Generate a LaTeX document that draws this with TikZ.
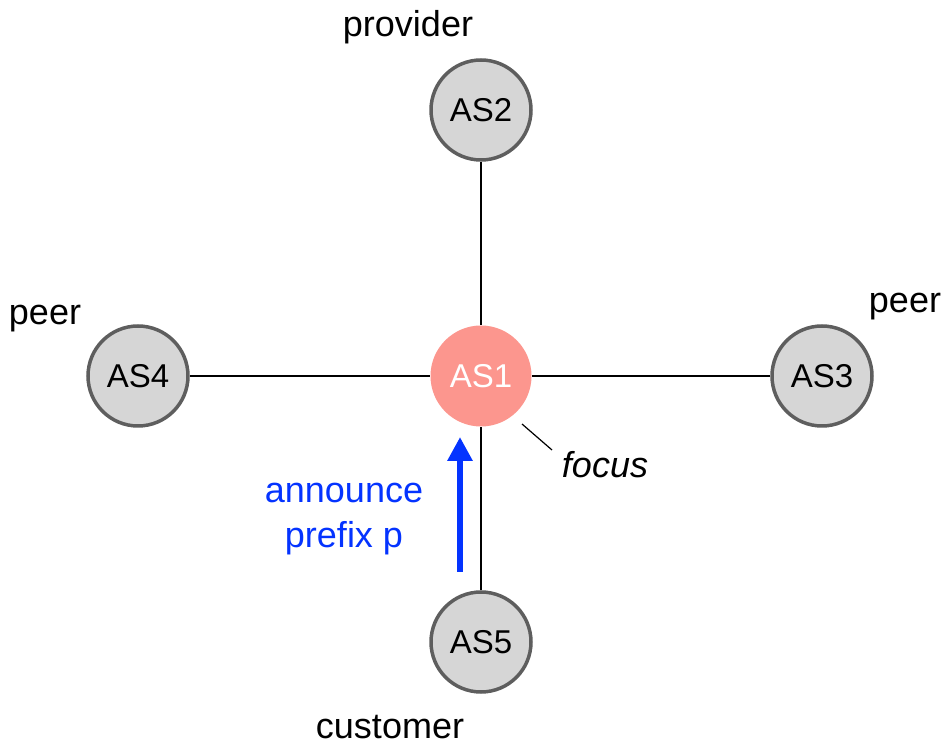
\documentclass[tikz,border=0pt]{standalone}
\usepackage{fontspec}
\setmainfont{Liberation Sans}
\usepackage{tikz}
\usetikzlibrary{arrows.meta}

\definecolor{asgray}{RGB}{214,214,214}
\definecolor{asborder}{RGB}{94,94,94}
\definecolor{focusred}{RGB}{252,150,142}
\definecolor{announceblue}{RGB}{4,51,255}

\begin{document}
\begin{tikzpicture}[x=1pt, y=1pt,
            as/.style={draw=asborder, circle, fill=asgray, line width=3.5pt, inner sep=0, minimum size=100pt, font=\fontsize{33}{33}\selectfont},
            role/.style={anchor=base, inner sep=0, font=\fontsize{36}{36}\selectfont},
            every edge/.style={draw, line width=1.2pt}]
        \useasboundingbox (0,0) rectangle (946,750);

        \node (AS1) [circle, fill=focusred, inner sep=0, minimum size=101pt, text=white, font=\fontsize{33}{33}\selectfont] at (481,374) {AS1};
        \node (AS2) [as, above of=AS1, node distance=266pt] {AS2} edge (AS1);
        \node (AS5) [as, below of=AS1, node distance=266pt] {AS5} edge (AS1);
        \node (AS4) [as, left of=AS1, node distance=343pt] {AS4} edge (AS1);
        \node (AS3) [as, right of=AS1, node distance=341pt] {AS3} edge (AS1);

        % roles
        \node (provider) [role] at (408,713) {provider};
        \node (peerL) [role] at (45,425) {peer};
        \node (peerR) [role] at (905,437) {peer};
        \node (customer) [role] at (390,11) {customer};

        % focus marker
        \node (focus) [role, font=\fontsize{36}{36}\selectfont\itshape] at (605,272) {focus};
        \coordinate (f1) at (522,326);
        \coordinate (f2) at (552,300);
        \draw [line width=1.2pt] (f1) -- (f2);

        % announcement
        \coordinate (tail) at (460,178);
        \coordinate (head) at (460,313);
        \draw [-{Triangle[length=24pt, width=24pt]}, line width=6pt, announceblue] (tail) -- (head);
        \node (announce) [align=center, inner sep=0, text=announceblue, font=\fontsize{36}{45}\selectfont] at (344,231) {announce\\prefix p};
    \end{tikzpicture}
\end{document}
